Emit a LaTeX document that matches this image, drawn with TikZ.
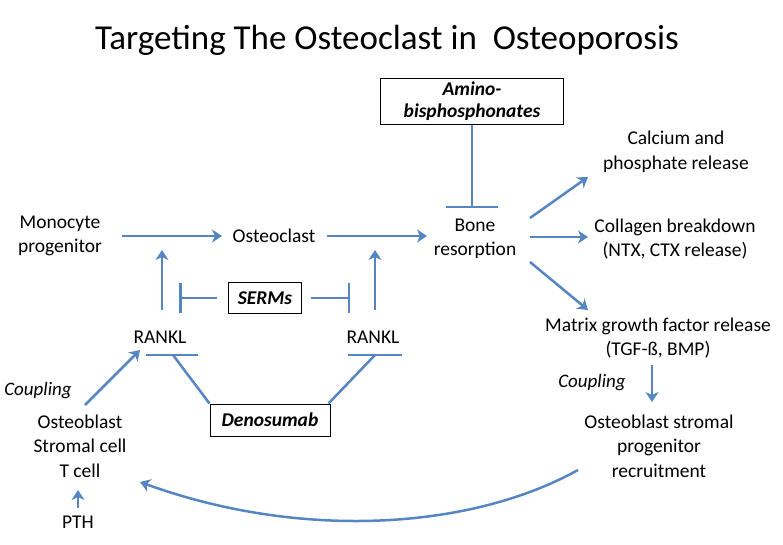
\documentclass[tikz,border=0pt]{standalone}
\usepackage{fontspec}
\setmainfont{Carlito}
\usetikzlibrary{arrows.meta}

\definecolor{linkblue}{HTML}{5585C2}
\tikzstyle{txt}=[align=center, inner sep=0pt, font=\fontsize{19.5}{24.5}\selectfont]
\tikzstyle{drug}=[draw, line width=1pt, align=center, inner sep=0pt,
      font=\fontsize{19.5}{22}\selectfont\bfseries\itshape]
\tikzstyle{arrowline}=[line width=2.5pt, color=linkblue,
      -{Stealth[length=10pt, width=13pt, inset=3pt]}]
\tikzstyle{inhib}=[line width=2.5pt, color=linkblue]

\begin{document}
\begin{tikzpicture}[x=1pt, y=-1pt]
      \useasboundingbox (0, 0) rectangle (783, 544);
      \node (title) at (387, 40) [txt, font=\fontsize{35}{40}\selectfont]
            {Targeting The Osteoclast in~ Osteoporosis};

      % cells and events
      \node (monocyte) at (60, 236) [txt] {Monocyte\\progenitor};
      \node (osteoclast) at (274, 236) [txt] {Osteoclast};
      \node (bone) at (475, 239) [txt] {Bone\\resorption};
      \node (calcium) at (676, 152) [txt] {Calcium and\\phosphate release};
      \node (collagen) at (675, 239) [txt] {Collagen breakdown\\(NTX, CTX release)};
      \node (matrix) at (658, 338) [txt] {Matrix growth factor release\\(TGF-ß, BMP)};
      \node (recruit) at (659, 446) [txt] {Osteoblast stromal\\progenitor\\recruitment};
      \node (cells) at (80, 446) [txt] {Osteoblast\\Stromal cell\\T cell};
      \node (pth) at (78, 522) [txt] {PTH};
      \node (rankl1) at (160, 337) [txt] {RANKL};
      \node (rankl2) at (373, 337) [txt] {RANKL};
      \node (couplingL) at (38, 391) [txt, font=\fontsize{19}{22}\selectfont\itshape] {Coupling};
      \node (couplingR) at (592, 383) [txt, font=\fontsize{19}{22}\selectfont\itshape] {Coupling};

      % drugs
      \node (amino) at (472, 101) [drug, minimum width=183pt, minimum height=46pt]
            {Amino-\\bisphosphonates};
      \node (serms) at (265, 298) [drug, minimum width=73pt, minimum height=31pt] {SERMs};
      \node (denosumab) at (270, 420) [drug, minimum width=120pt, minimum height=32pt] {Denosumab};

      % stimulation
      \draw[arrowline] ([shift={(62,0)}]monocyte.center) -- ([shift={(-52,0)}]osteoclast.center);
      \draw[arrowline] ([shift={(53,0)}]osteoclast.center) -- ([shift={(-48,-3)}]bone.center);
      \draw[arrowline] ([shift={(55,-21)}]bone.center) -- ([shift={(-88,25)}]calcium.center);
      \draw[arrowline] ([shift={(55,-2)}]bone.center) -- ([shift={(-87,-2)}]collagen.center);
      \draw[arrowline] ([shift={(55,23)}]bone.center) -- ([shift={(-70,-28)}]matrix.center);
      \draw[arrowline] ([shift={(-6,27)}]matrix.center) -- ([shift={(-7,-44)}]recruit.center);
      \draw[arrowline] ([shift={(-81,24)}]recruit.center)
            .. controls (470, 530) and (300, 540) .. ([shift={(60,36)}]cells.center);
      \draw[arrowline, line width=2pt] ([shift={(0,-14)}]pth.center) -- ([shift={(-2,44)}]cells.center);
      \draw[arrowline] ([shift={(5,-41)}]cells.center) -- ([shift={(-20,13)}]rankl1.center);
      \draw[arrowline] ([shift={(2,-27)}]rankl1.center) -- ([shift={(-112,14)}]osteoclast.center);
      \draw[arrowline] ([shift={(2,-27)}]rankl2.center) -- ([shift={(101,14)}]osteoclast.center);

      % inhibition
      \draw[inhib, -{Bar[width=52pt, line width=2.5pt]}] (amino.south) -- ([shift={(-3,-31)}]bone.center);
      \draw[inhib, -{Bar[width=30pt, line width=2.5pt]}] ([xshift=-11pt]serms.west) -- ([shift={(-86,0)}]serms.center);
      \draw[inhib, -{Bar[width=30pt, line width=2.5pt]}] ([xshift=9pt]serms.east) -- ([shift={(85,0)}]serms.center);
      \coordinate (bar1) at ([shift={(13,18)}]rankl1.center);
      \coordinate (bar2) at ([shift={(2,18)}]rankl2.center);
      \draw[inhib] ([xshift=-27pt]bar1) -- ([xshift=25pt]bar1);
      \draw[inhib] ([xshift=-27pt]bar2) -- ([xshift=27pt]bar2);
      \draw[inhib] (denosumab.north west) -- (bar1);
      \draw[inhib] ([xshift=-2pt]denosumab.north east) -- (bar2);
\end{tikzpicture}
\end{document}
